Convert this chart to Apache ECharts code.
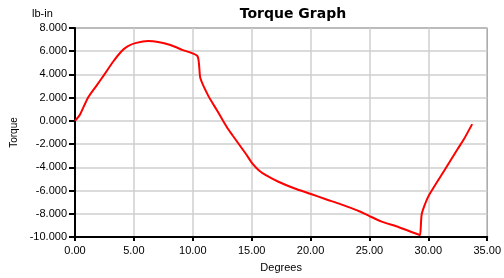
<!DOCTYPE html>
<html>
<head>
<meta charset="utf-8">
<script src="https://cdn.jsdelivr.net/npm/echarts@6/dist/echarts.min.js"></script>
<style>
  html, body { margin: 0; padding: 0; background: #fff; }
  #chart { width: 504px; height: 278px; }
</style>
</head>
<body>
<div id="chart"></div>
<script>
// angle (degrees) and torque (lb-in)
const degrees = [0, 0.4, 1.1, 1.8, 2.5, 3.2, 3.95, 4.5, 5.2, 6.2, 7.05, 8.1, 9.1, 10.4,
  10.64, 11.33, 12.0, 12.58, 13.0, 13.4, 14.5, 15.07, 15.6, 16.2, 17.27, 18.6, 20.04,
  21.3, 22.53, 24.19, 25.0, 25.98, 27.5, 29.16, 29.3, 29.44, 29.99, 31.37, 32.5, 33.03, 33.72];
const torque = [0, 0.5, 2.0, 3.0, 4.0, 5.05, 6.0, 6.44, 6.72, 6.88, 6.8, 6.53, 6.12, 5.58,
  3.69, 2.13, 1.0, 0, -0.7, -1.28, -2.83, -3.69, -4.25, -4.68, -5.24, -5.8, -6.3,
  -6.75, -7.17, -7.8, -8.2, -8.65, -9.16, -9.79, -9.84, -8.02, -6.52, -4.25, -2.4, -1.56, -0.28];

const chart = echarts.init(document.getElementById("chart"));
const labelFont = "Liberation Sans";

const option = {
  animation: false,
  title: {
    text: "Torque Graph",
    left: 288,
    textAlign: "center",
    top: 2,
    textStyle: { fontFamily: "DejaVu Sans", fontSize: 14, fontWeight: "bold", color: "#000" }
  },
  graphic: [{
    type: "text",
    left: 32,
    top: 8,
    style: { text: "lb-in", fontFamily: labelFont, fontSize: 11, fill: "#000" }
  }],
  grid: {
    left: 75, right: 7, top: 28, bottom: 38,
    show: true, borderColor: "#000", borderWidth: 1
  },
  xAxis: {
    type: "value",
    min: 0, max: 35, interval: 5,
    name: "Degrees",
    nameLocation: "middle",
    nameGap: 25,
    nameTextStyle: { fontFamily: labelFont, fontSize: 11, color: "#000" },
    axisLine: { onZero: false, lineStyle: { color: "#000", width: 2 } },
    axisTick: { show: true, length: 4, lineStyle: { color: "#000", width: 2 } },
    axisLabel: {
      fontFamily: labelFont, fontSize: 11, color: "#000", margin: 8,
      formatter: v => v.toFixed(2)
    },
    splitLine: { show: true, lineStyle: { color: "#cfcfcf", width: 1.5 } }
  },
  yAxis: {
    type: "value",
    min: -10, max: 8, interval: 2,
    name: "Torque",
    nameLocation: "middle",
    nameRotate: 90,
    nameGap: 50,
    nameTextStyle: { fontFamily: labelFont, fontSize: 10, color: "#000" },
    axisLine: { show: true, onZero: false, lineStyle: { color: "#000", width: 2 } },
    axisTick: { show: true, length: 6, lineStyle: { color: "#000", width: 2 } },
    axisLabel: {
      fontFamily: labelFont, fontSize: 11, color: "#000", margin: 8,
      formatter: v => v.toFixed(3)
    },
    splitLine: { show: true, lineStyle: { color: "#cfcfcf", width: 1.5 } }
  },
  series: [{
    type: "line",
    data: degrees.map((d, i) => [d, torque[i]]),
    showSymbol: false,
    smooth: 0.2,
    lineStyle: { color: "#ff0000", width: 2 }
  }]
};
chart.setOption(option);
</script>
</body>
</html>
